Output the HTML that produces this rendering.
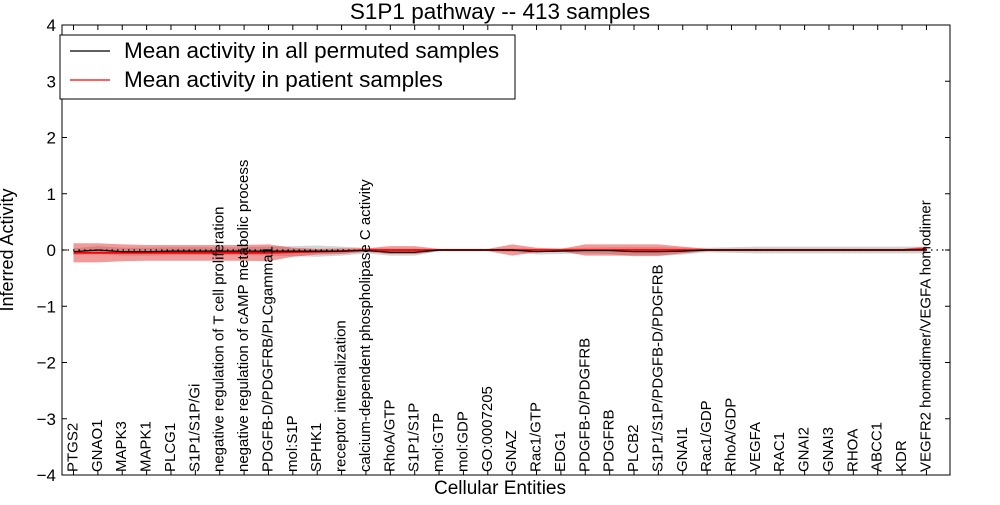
<!DOCTYPE html>
<html><head><meta charset="utf-8"><style>
body{margin:0;background:#fff;font-family:"Liberation Sans","DejaVu Sans",sans-serif}
svg text{font-family:"Liberation Sans","DejaVu Sans",sans-serif}
</style></head><body>
<svg id="c" width="1000" height="500">
<rect width="1000" height="500" fill="#fff"/>
</svg>
<script>
const categories=["PTGS2","GNAO1","MAPK3","MAPK1","PLCG1","S1P1/S1P/Gi","negative regulation of T cell proliferation","negative regulation of cAMP metabolic process","PDGFB-D/PDGFRB/PLCgamma1","mol:S1P","SPHK1","receptor internalization","calcium-dependent phospholipase C activity","RhoA/GTP","S1P1/S1P","mol:GTP","mol:GDP","GO:0007205","GNAZ","Rac1/GTP","EDG1","PDGFB-D/PDGFRB","PDGFRB","PLCB2","S1P1/S1P/PDGFB-D/PDGFRB","GNAI1","Rac1/GDP","RhoA/GDP","VEGFA","RAC1","GNAI2","GNAI3","RHOA","ABCC1","KDR","VEGFR2 homodimer/VEGFA homodimer"];
const permMean=[-0.03,0.0,-0.03,-0.03,-0.02,-0.02,-0.02,-0.02,-0.02,-0.02,-0.02,-0.02,-0.01,-0.04,-0.04,0,0,0,0,-0.03,-0.02,-0.01,-0.01,-0.03,-0.03,-0.02,0,0,0,0,0,0,0,0,0,0];
const permStd=[0.06,0.07,0.07,0.07,0.07,0.07,0.07,0.07,0.08,0.09,0.1,0.08,0.05,0.06,0.06,0.02,0.02,0.02,0.03,0.05,0.05,0.05,0.06,0.08,0.08,0.06,0.04,0.05,0.06,0.06,0.06,0.06,0.06,0.06,0.06,0.06];
const patMean=[-0.05,-0.05,-0.05,-0.05,-0.05,-0.05,-0.05,-0.05,-0.05,-0.04,-0.03,-0.02,0,0,0,0,0,0,0,0,0,0,0,0,0,0,0,0,0,0,0,0,0,0,0,0.02];
const patStd=[0.17,0.17,0.15,0.14,0.14,0.14,0.14,0.14,0.15,0.08,0.05,0.05,0.03,0.07,0.07,0.02,0.02,0.02,0.1,0.04,0.02,0.1,0.1,0.1,0.1,0.06,0.02,0.02,0.02,0.02,0.02,0.02,0.02,0.02,0.02,0.04];
const yTicks=[-4,-3,-2,-1,0,1,2,3,4];
const svg=document.getElementById('c');const NS='http://www.w3.org/2000/svg';
const L=62,R=950,T=25,B=475;
const x=i=>73.5+i*24.37;
const y=v=>250-v*56.25;
function mk(t,a,p){const e=document.createElementNS(NS,t);for(const k in a)e.setAttribute(k,a[k]);(p||svg).appendChild(e);return e;}
function band(m,s,fill,op,name){let d='';m.forEach((v,i)=>d+=(i?'L':'M')+x(i)+','+y(v+s[i]));for(let i=m.length-1;i>=0;i--)d+='L'+x(i)+','+y(m[i]-s[i]);const e=mk('path',{d:d+'Z',fill:fill,'fill-opacity':op});

}
function line(m,col,name,w){const e=mk('polyline',{points:m.map((v,i)=>x(i)+','+y(v)).join(' '),fill:'none',stroke:col,'stroke-width':w});

}
band(permMean,permStd,'#aaaaaa',0.5,'permuted-band');
band(patMean,patStd,'#e02020',0.45,'patient-band');
const z=mk('line',{x1:L,x2:R,y1:y(0),y2:y(0),stroke:'#000','stroke-dasharray':'1.5,4','stroke-width':1.2});


line(patMean,'#ff0000','patient-mean-line',1.8);
line(permMean,'#000','permuted-mean-line',1.2);
const fr=mk('rect',{x:L,y:T,width:R-L,height:B-T,fill:'none',stroke:'#000'});


yTicks.forEach(v=>{mk('line',{x1:L,x2:L+5,y1:y(v),y2:y(v),stroke:'#000'});mk('line',{x1:R-5,x2:R,y1:y(v),y2:y(v),stroke:'#000'});
const t=mk('text',{x:L-6,y:y(v)+6,'text-anchor':'end','font-size':17});t.textContent=(v<0?'\u2212'+(-v):v);

});
categories.forEach((c,i)=>{mk('line',{x1:x(i),x2:x(i),y1:B,y2:B-5,stroke:'#000'});mk('line',{x1:x(i),x2:x(i),y1:T,y2:T+5,stroke:'#000'});
const t=mk('text',{x:0,y:0,'font-size':15,transform:`translate(${x(i)+4},472) rotate(-90)`});t.textContent=c;

});
let t=mk('text',{x:500,y:19,'text-anchor':'middle','font-size':22.5});t.textContent='S1P1 pathway -- 413 samples';


t=mk('text',{x:500,y:494,'text-anchor':'middle','font-size':19});t.textContent='Cellular Entities';


t=mk('text',{x:0,y:0,'text-anchor':'middle','font-size':18,transform:'translate(13,250) rotate(-90)'});t.textContent='Inferred Activity';


const g=mk('g',{});


mk('rect',{x:60,y:35,width:455,height:64,fill:'#fff',stroke:'#000'},g);
mk('line',{x1:70,x2:110,y1:51,y2:51,stroke:'#000','stroke-width':1.2},g);
mk('line',{x1:70,x2:110,y1:80,y2:80,stroke:'#f00','stroke-width':1.2},g);
t=mk('text',{x:124,y:58,'font-size':22.5},g);t.textContent='Mean activity in all permuted samples';


t=mk('text',{x:124,y:87,'font-size':22.5},g);t.textContent='Mean activity in patient samples';


</script>
</body></html>
